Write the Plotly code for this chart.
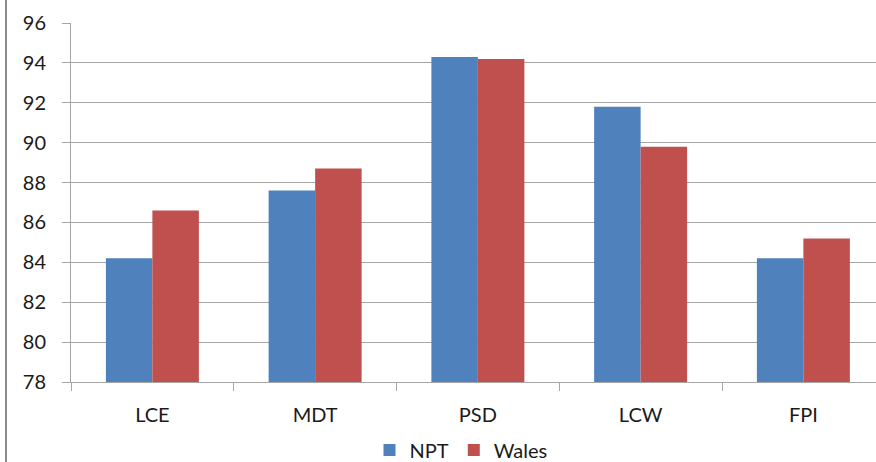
import plotly.graph_objects as go

categories = ["LCE", "MDT", "PSD", "LCW", "FPI"]
npt_values = [84.2, 87.6, 94.3, 91.8, 84.2]
wales_values = [86.6, 88.7, 94.2, 89.8, 85.2]
y_ticks = [78, 80, 82, 84, 86, 88, 90, 92, 94, 96]

FONT = "Lato, 'Liberation Sans', Arial, sans-serif"
W, H = 876, 462
ML, MR, MT, MB = 71, 0, 23, 80
plot_w = W - ML - MR
cat_w = 162.75
x_max = -0.5 + plot_w / cat_w

fig = go.Figure()
fig.add_trace(go.Bar(name="NPT", x=categories, y=npt_values, marker_color="#4F81BD",
                     marker_line_width=0))
fig.add_trace(go.Bar(name="Wales", x=categories, y=wales_values, marker_color="#C0504D",
                     marker_line_width=0))

fig.update_layout(
    width=W, height=H,
    margin=dict(l=ML, r=MR, t=MT, b=MB, pad=0, autoexpand=False),
    paper_bgcolor="white", plot_bgcolor="white",
    barmode="group", bargap=0.4286, bargroupgap=0,
    font=dict(family=FONT, size=20, color="#1A1A1A"),
    showlegend=True,
    legend=dict(orientation="h", xref="container", x=461 / W, xanchor="center",
                yref="container", y=1 - 450 / H, yanchor="middle",
                font=dict(size=20), itemwidth=30, traceorder="normal",
                bgcolor="rgba(0,0,0,0)"),
    xaxis=dict(type="category", range=[-0.5, x_max], showgrid=False, automargin=False,
               showline=True, linecolor="#A6A6A6", linewidth=1,
               ticks="outside", ticklen=8, tickcolor="#A6A6A6",
               tickson="boundaries", ticklabelstandoff=15,
               tickfont=dict(size=20, color="#1A1A1A")),
    yaxis=dict(range=[78, 96], tickvals=y_ticks, showgrid=True, automargin=False,
               gridcolor="#A6A6A6", gridwidth=1,
               showline=True, linecolor="#A6A6A6", linewidth=1,
               ticks="outside", ticklen=8, tickcolor="#A6A6A6",
               ticklabelstandoff=12, zeroline=False,
               tickfont=dict(size=20, color="#1A1A1A")),
)

fig.add_shape(type="line", xref="paper", yref="paper", xsizemode="pixel", xanchor=0,
              x0=-(ML - 6), x1=-(ML - 6), y0=-2, y1=2,
              line=dict(color="#8C8C8C", width=2))

fig.write_html("out.html", config={"displayModeBar": False},
               post_script="document.body.style.margin='0';document.body.style.overflow='hidden';")
